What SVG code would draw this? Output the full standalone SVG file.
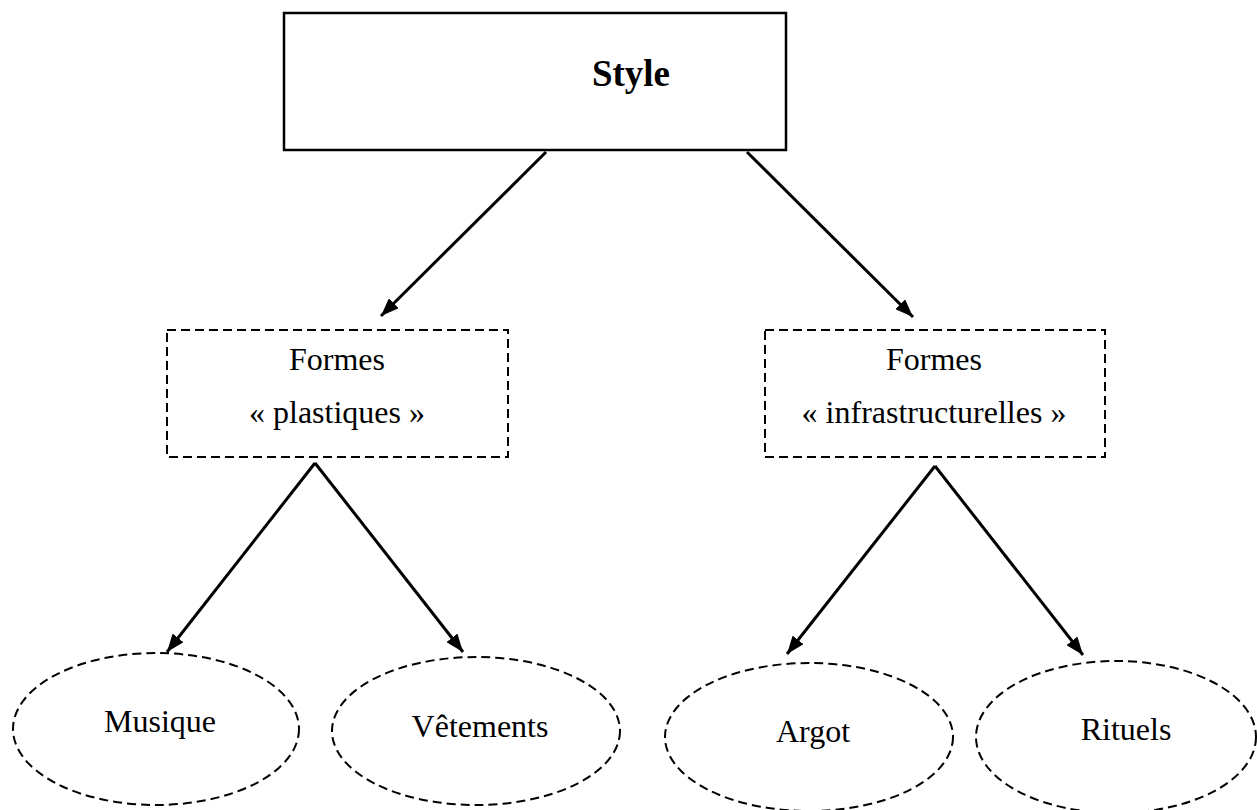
<svg xmlns="http://www.w3.org/2000/svg" width="1257" height="810" viewBox="0 0 1257 810">
<style>
.t{font-family:"Liberation Serif","Times New Roman",serif;font-size:32px;fill:#000;text-anchor:middle}
.b{font-weight:bold;font-size:37px}
.solid{fill:#fff;stroke:#000;stroke-width:2.5}
.dash{fill:none;stroke:#000;stroke-width:2;stroke-dasharray:9 5}
.arr{stroke:#000;stroke-width:3;fill:none;marker-end:url(#ah)}
</style>
<defs>
<marker id="ah" markerUnits="userSpaceOnUse" viewBox="0 0 18 14" refX="18" refY="7" markerWidth="18" markerHeight="14" orient="auto">
<path d="M0,0 L18,7 L0,14 z" fill="#000"/>
</marker>
</defs>
<rect width="1257" height="810" fill="#fff"/>
<g id="connectors">
<line class="arr" x1="546" y1="152" x2="381" y2="316"/>
<line class="arr" x1="747" y1="152" x2="913" y2="317"/>
<line class="arr" x1="315" y1="463" x2="167" y2="652"/>
<line class="arr" x1="315" y1="463" x2="463" y2="652"/>
<line class="arr" x1="935" y1="466" x2="787" y2="654"/>
<line class="arr" x1="935" y1="466" x2="1083" y2="655"/>
</g>
<g id="style">
<rect class="solid" x="284" y="13" width="502" height="137"/>
<text class="t b" x="631" y="86">Style</text>
</g>
<g id="plastiques">
<rect class="dash" x="167" y="330" width="341" height="127"/>
<text class="t" x="337" y="370">Formes</text>
<text class="t" x="337" y="423">« plastiques »</text>
</g>
<g id="infra">
<rect class="dash" x="765" y="330" width="340" height="127"/>
<text class="t" x="934" y="370">Formes</text>
<text class="t" x="934" y="423">« infrastructurelles »</text>
</g>
<g id="musique">
<ellipse class="dash" cx="156" cy="729" rx="143" ry="76"/>
<text class="t" x="160" y="732">Musique</text>
</g>
<g id="vetements">
<ellipse class="dash" cx="476" cy="731" rx="144" ry="74"/>
<text class="t" x="480" y="737">Vêtements</text>
</g>
<g id="argot">
<ellipse class="dash" cx="809" cy="737" rx="144" ry="74"/>
<text class="t" x="813" y="742">Argot</text>
</g>
<g id="rituels">
<ellipse class="dash" cx="1116" cy="737" rx="140" ry="76"/>
<text class="t" x="1126" y="740">Rituels</text>
</g>
</svg>
